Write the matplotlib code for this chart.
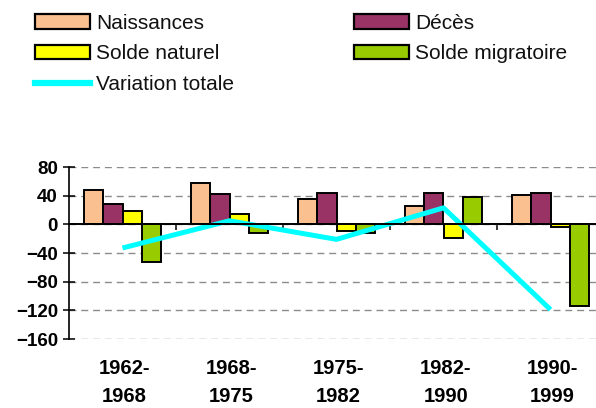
import numpy as np
import matplotlib
matplotlib.use("Agg")
import matplotlib.pyplot as plt
import matplotlib.transforms as mtransforms
from matplotlib.lines import Line2D
from matplotlib.patches import Patch

# Data
periodes = ["1962-\n1968", "1968-\n1975", "1975-\n1982", "1982-\n1990", "1990-\n1999"]
naissances = [48, 57, 36, 25, 41]
deces = [29, 42, 44, 44, 44]
solde_naturel = [19, 14, -9, -19, -4]
solde_migratoire = [-52, -12, -12, 38, -114]
variation_totale = [-33, 5, -21, 23, -119]

series = [
    ("Naissances", naissances, "#FAC090"),
    ("Décès", deces, "#993366"),
    ("Solde naturel", solde_naturel, "#FFFF00"),
    ("Solde migratoire", solde_migratoire, "#99CC00"),
]

plt.rcParams["font.family"] = ["Liberation Sans", "DejaVu Sans"]

fig = plt.figure(figsize=(5.96, 4.08), dpi=100)
ax = fig.add_axes([69 / 596, 1 - 339 / 408, 1 - 69 / 596, 172 / 408])

x = np.arange(len(periodes))
w = 0.182
for i, (name, vals, col) in enumerate(series):
    ax.bar(x + (i - 1.5) * w, vals, width=w, color=col, edgecolor="black",
           linewidth=1.4, zorder=3)
ax.plot(x, variation_totale, color="#00FFFF", linewidth=3.6, zorder=4,
        solid_capstyle="butt")

ax.set_ylim(-160, 80)
ax.set_xlim(-0.5, -0.5 + 527 / 107)
ax.set_yticks(np.arange(-160, 81, 40))
ax.yaxis.grid(True, linestyle=(0, (5, 3.5)), color="#8c8c8c", linewidth=1.0)
ax.set_axisbelow(True)

for s in ["top", "right"]:
    ax.spines[s].set_visible(False)
ax.spines["left"].set_linewidth(1.2)
ax.spines["bottom"].set_position(("data", 0))
ax.spines["bottom"].set_linewidth(1.4)
ax.spines["bottom"].set_zorder(5)

ax.set_xticks(x[:-1] + 0.5)
ax.set_xticklabels([])
ax.tick_params(axis="x", direction="out", length=4, width=1.1)
ax.tick_params(axis="y", direction="inout", length=8, width=1.1, pad=4,
               labelsize=13.5)
for lab in ax.get_yticklabels():
    lab.set_fontweight("bold")

trans = mtransforms.blended_transform_factory(ax.transData, ax.transAxes)
for xi, lab in zip(x, periodes):
    ax.text(xi + 0.02, -0.118, lab, transform=trans, ha="center", va="top",
            fontsize=14.5, fontweight="bold", linespacing=1.6)

# Legend, two columns
h1 = [Patch(facecolor=series[0][2], edgecolor="black", linewidth=1.6),
      Patch(facecolor=series[2][2], edgecolor="black", linewidth=1.6),
      Line2D([0], [0], color="#00FFFF", linewidth=4.5)]
l1 = ["Naissances", "Solde naturel", "Variation totale"]
h2 = [Patch(facecolor=series[1][2], edgecolor="black", linewidth=1.6),
      Patch(facecolor=series[3][2], edgecolor="black", linewidth=1.6)]
l2 = ["Décès", "Solde migratoire"]

common = dict(frameon=False, fontsize=15, handlelength=2.65, handleheight=0.7,
              handletextpad=0.3, labelspacing=0.55, borderpad=0,
              borderaxespad=0, loc="upper left")
leg1 = fig.legend(h1, l1, bbox_to_anchor=(35 / 596, 1 - 14 / 408), **common)
leg2 = fig.legend(h2, l2, bbox_to_anchor=(354 / 596, 1 - 14 / 408), **common)
for leg in (leg1, leg2):
    for t in leg.get_texts():
        t.set_color("#111111")

fig.savefig("out.png", dpi=100)
